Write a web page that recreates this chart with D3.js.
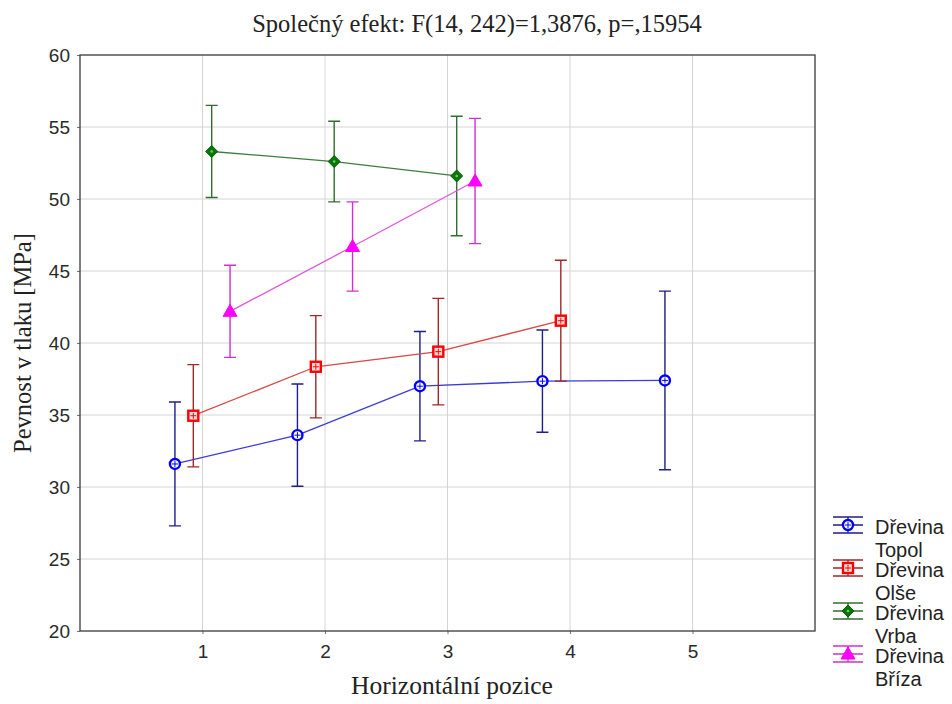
<!DOCTYPE html>
<html>
<head>
<meta charset="utf-8">
<script src="https://cdn.jsdelivr.net/npm/d3@7"></script>
<style>
  body { margin: 0; background: #fff; }
  svg { display: block; }
</style>
</head>
<body>
<svg width="952" height="704"></svg>
<script>
// data (mean, half width of the error bar)
const positions = [1, 2, 3, 4, 5];
const xTicks = [1, 2, 3, 4, 5];
const yTicks = [20, 25, 30, 35, 40, 45, 50, 55, 60];
const species = ["Topol", "Olše", "Vrba", "Bříza"];

const topolMean = [31.6, 33.6, 37.0, 37.35, 37.4];
const topolErr = [4.3, 3.55, 3.8, 3.55, 6.2];
const olseMean = [34.95, 38.35, 39.4, 41.55];
const olseErr = [3.55, 3.55, 3.7, 4.2];
const vrbaMean = [53.3, 52.6, 51.6];
const vrbaErr = [3.2, 2.8, 4.15];
const brizaMean = [42.2, 46.7, 51.25];
const brizaErr = [3.2, 3.1, 4.35];

let svg = d3.select("svg");

let plotLeft = 80, plotRight = 815, plotTop = 55, plotBottom = 631;

let xScale = d3.scaleLinear().domain([0, 6]).range([plotLeft, plotRight]);
let yScale = d3.scaleLinear().domain([20, 60]).range([plotBottom, plotTop]);

let series = [
  { name: species[0], mean: topolMean, err: topolErr, shift: -0.225,
    mark: "#0000ff", line: "#3a3ad8", bar: "#1f1f8a", shape: "circle" },
  { name: species[1], mean: olseMean, err: olseErr, shift: -0.075,
    mark: "#ff0000", line: "#d84848", bar: "#a02828", shape: "square" },
  { name: species[2], mean: vrbaMean, err: vrbaErr, shift: 0.075,
    mark: "#007a00", line: "#3d7d3d", bar: "#2f6e2f", shape: "diamond" },
  { name: species[3], mean: brizaMean, err: brizaErr, shift: 0.225,
    mark: "#ff00ff", line: "#e055e0", bar: "#d030d0", shape: "triangle" }
];

// grid
svg.append("g")
  .selectAll("line")
  .data(xTicks)
  .enter()
  .append("line")
  .attr("x1", d => xScale(d))
  .attr("x2", d => xScale(d))
  .attr("y1", plotTop)
  .attr("y2", plotBottom)
  .attr("stroke", "#d4d4d4")
  .attr("stroke-width", 1);

svg.append("g")
  .selectAll("line")
  .data(yTicks.slice(1, -1))
  .enter()
  .append("line")
  .attr("x1", plotLeft)
  .attr("x2", plotRight)
  .attr("y1", d => yScale(d))
  .attr("y2", d => yScale(d))
  .attr("stroke", "#d4d4d4")
  .attr("stroke-width", 1);

// axes
let xAxis = svg.append("g")
  .attr("transform", "translate(0," + plotBottom + ")")
  .call(d3.axisBottom(xScale).tickValues(xTicks).tickFormat(d3.format("d"))
    .tickSize(3).tickPadding(11));
let yAxis = svg.append("g")
  .attr("transform", "translate(" + plotLeft + ",0)")
  .call(d3.axisLeft(yScale).tickValues(yTicks).tickSize(3).tickPadding(7));

[xAxis, yAxis].forEach(function (a) {
  a.select(".domain").remove();
  a.selectAll("line").attr("stroke", "#777");
  a.selectAll("text")
    .attr("fill", "#2a2a2a")
    .style("font-family", "'Liberation Sans', Arial, sans-serif")
    .style("font-size", "19px");
});
yAxis.selectAll("text").attr("dy", "0.36em");

// frame
svg.append("rect")
  .attr("x", plotLeft)
  .attr("y", plotTop)
  .attr("width", plotRight - plotLeft)
  .attr("height", plotBottom - plotTop)
  .attr("fill", "none")
  .attr("stroke", "#3a3a3a")
  .attr("stroke-width", 1.3);

function drawMarker(g, s, x, y) {
  if (s.shape === "circle") {
    g.append("circle").attr("cx", x).attr("cy", y).attr("r", 5)
      .attr("fill", "white").attr("stroke", s.mark).attr("stroke-width", 2.4);
    g.append("path").attr("d", `M${x - 3},${y}H${x + 3}M${x},${y - 3}V${y + 3}`)
      .attr("stroke", s.mark).attr("stroke-width", 1);
  } else if (s.shape === "square") {
    g.append("rect").attr("x", x - 5).attr("y", y - 5).attr("width", 10).attr("height", 10)
      .attr("fill", "#ffdddd").attr("stroke", s.mark).attr("stroke-width", 2.4);
    g.append("path").attr("d", `M${x - 3},${y}H${x + 3}M${x},${y - 3}V${y + 3}`)
      .attr("stroke", s.mark).attr("stroke-width", 1);
  } else if (s.shape === "diamond") {
    g.append("path").attr("d", `M${x},${y - 6}L${x + 6},${y}L${x},${y + 6}L${x - 6},${y}Z`)
      .attr("fill", s.mark).attr("stroke", "#0a5a0a").attr("stroke-width", 1);
    g.append("circle").attr("cx", x).attr("cy", y).attr("r", 1.3).attr("fill", "#7fc27f");
  } else {
    g.append("path").attr("d", `M${x},${y - 7}L${x + 7},${y + 5}L${x - 7},${y + 5}Z`)
      .attr("fill", s.mark).attr("stroke", s.mark).attr("stroke-width", 1);
  }
}

let line = d3.line()
  .x(d => xScale(d.x))
  .y(d => yScale(d.y));

series.forEach(function (s) {
  let pts = s.mean.map((m, i) => ({ x: positions[i] + s.shift, y: m, e: s.err[i] }));
  let g = svg.append("g");

  g.append("path")
    .datum(pts)
    .attr("d", line)
    .attr("fill", "none")
    .attr("stroke", s.line)
    .attr("stroke-width", 1.3);

  pts.forEach(function (p) {
    let x = xScale(p.x);
    let y1 = yScale(p.y + p.e), y2 = yScale(p.y - p.e);
    g.append("path")
      .attr("d", `M${x},${y1}V${y2}M${x - 6},${y1}H${x + 6}M${x - 6},${y2}H${x + 6}`)
      .attr("fill", "none")
      .attr("stroke", s.bar)
      .attr("stroke-width", 1.4);
  });

  pts.forEach(function (p) {
    drawMarker(g, s, xScale(p.x), yScale(p.y));
  });
});

// title and axis labels
let serif = "'Liberation Serif', 'Times New Roman', serif";

svg.append("text")
  .attr("x", 477)
  .attr("y", 32)
  .attr("text-anchor", "middle")
  .style("font-family", serif)
  .style("font-size", "24.5px")
  .attr("fill", "#222")
  .text("Společný efekt: F(14, 242)=1,3876, p=,15954");

svg.append("text")
  .attr("x", 452)
  .attr("y", 694)
  .attr("text-anchor", "middle")
  .style("font-family", serif)
  .style("font-size", "25.5px")
  .attr("fill", "#222")
  .text("Horizontální pozice");

svg.append("text")
  .attr("transform", "translate(31," + (plotTop + plotBottom) / 2 + ") rotate(-90)")
  .attr("text-anchor", "middle")
  .style("font-family", serif)
  .style("font-size", "24.5px")
  .attr("fill", "#222")
  .text("Pevnost v tlaku [MPa]");

// legend
let legend = svg.append("g");
series.forEach(function (s, i) {
  let cy = 525 + i * 43;
  let g = legend.append("g");
  g.append("path")
    .attr("d", `M833,${cy}H863M833,${cy - 8}H863M833,${cy + 8}H863M848,${cy - 8}V${cy + 8}`)
    .attr("stroke", s.bar)
    .attr("stroke-width", 1.3)
    .attr("fill", "none");
  drawMarker(g, s, 848, cy);
  g.append("text")
    .attr("x", 875)
    .attr("y", cy + 9)
    .style("font-family", "'Liberation Sans', Arial, sans-serif")
    .style("font-size", "20px")
    .attr("fill", "#222")
    .text("Dřevina");
  g.append("text")
    .attr("x", 875)
    .attr("y", cy + 32)
    .style("font-family", "'Liberation Sans', Arial, sans-serif")
    .style("font-size", "20px")
    .attr("fill", "#222")
    .text(s.name);
});
</script>
</body>
</html>
